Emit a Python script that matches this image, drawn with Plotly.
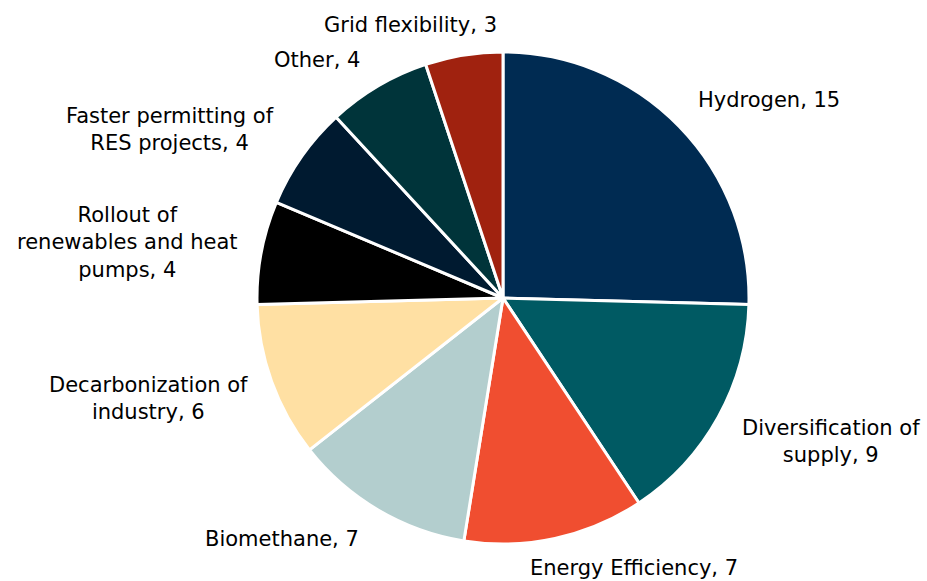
import plotly.graph_objects as go

labels = ["Hydrogen", "Diversification of supply", "Energy Efficiency", "Biomethane",
          "Decarbonization of industry", "Rollout of renewables and heat pumps",
          "Faster permitting of RES projects", "Other", "Grid flexibility"]
text_labels = ["Hydrogen, 15", "Diversification of<br>supply, 9", "Energy Efficiency, 7",
               "Biomethane, 7", "Decarbonization of<br>industry, 6",
               "Rollout of<br>renewables and heat<br>pumps, 4",
               "Faster permitting of<br>RES projects, 4", "Other, 4", "Grid flexibility, 3"]
values = [15, 9, 7, 7, 6, 4, 4, 4, 3]
colors = ["#002B52", "#005A63", "#F04E30", "#B3CECE", "#FFE0A3",
          "#000000", "#001A30", "#00343A", "#A0220F"]

# label centre positions in pixels (layout only)
label_pos = [(769, 100), (831, 441), (634, 568), (282, 539), (148, 398),
             (128, 243), (170, 129), (317, 60), (410, 25)]

W, H = 927, 581
fig = go.Figure(go.Pie(
    labels=labels, values=values, textinfo="none",
    sort=False, direction="clockwise", rotation=0,
    marker=dict(colors=colors, line=dict(color="white", width=3)),
    domain=dict(x=[257/W, 749/W], y=[1-544/H, 1-52/H]),
    showlegend=False, automargin=False, hoverinfo="label+value",
))
for t, (px, py) in zip(text_labels, label_pos):
    fig.add_annotation(x=px/W, y=1-py/H, xref="paper", yref="paper", text=t,
                       showarrow=False, xanchor="center", yanchor="middle",
                       align="center",
                       font=dict(family="DejaVu Sans", size=21, color="black"))
fig.update_layout(width=W, height=H, margin=dict(l=0, r=0, t=0, b=0),
                  paper_bgcolor="white", plot_bgcolor="white")
fig.write_html("out.html")
